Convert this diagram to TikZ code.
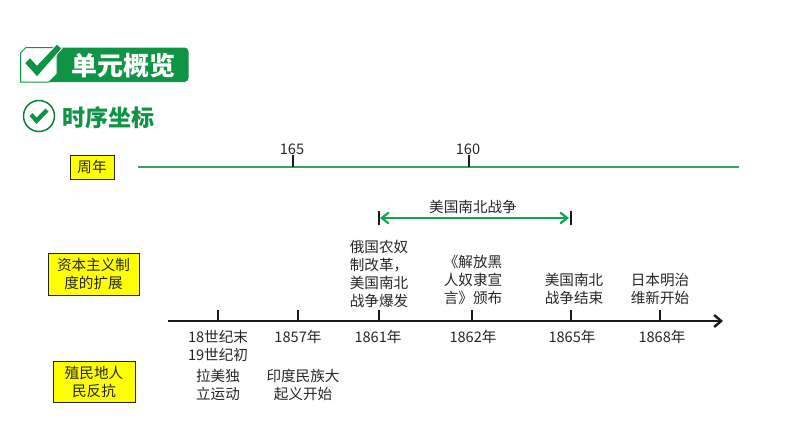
\documentclass[tikz,border=0pt]{standalone}
\usepackage{fontspec}
\setmainfont{Noto Sans CJK SC}
\usetikzlibrary{arrows.meta}
\definecolor{bannergreen}{HTML}{0F9345}
\definecolor{linegreen}{HTML}{3E9E68}
\definecolor{arrowgreen}{HTML}{12A550}
\definecolor{boxyellow}{HTML}{FFFF00}
\tikzset{
  x=1pt,y=-1pt,
  txt/.style={inner sep=0pt,align=center,font=\fontsize{14.6}{18}\selectfont,text=black!85},
  labelbox/.style={draw=black!85,fill=boxyellow,line width=1pt,inner sep=0pt,align=center,font=\fontsize{14.6}{18}\selectfont,text=black!85},
  tick/.style={line width=2pt,black!90},
  axisline/.style={line width=2.4pt,black!90,-{Straight Barb[length=7pt,width=12pt,line width=2.4pt]}},
  gline/.style={line width=2.2pt,linegreen},
}
\begin{document}
\begin{tikzpicture}
\useasboundingbox (0,0) rectangle (794,447);
% banner
\fill[bannergreen,rounded corners=4pt] (45,47.5) rectangle (188.5,82);
\draw[bannergreen,fill=white,line width=1pt] (26,47.5) -- (57,47.5) -- (57,74) -- (49,82) -- (20.5,82) -- (20.5,53) -- cycle;
\fill[bannergreen,draw=white,line width=0.8pt] (24.5,63) -- (30,57.5) -- (37,65) -- (57,44) -- (62,48.5) -- (37,77) -- cycle;
\node[inner sep=0pt,text=white,font=\fontsize{26}{30}\selectfont\bfseries] (title) at (123,66) {单元概览};
% section heading
\node[circle,draw=bannergreen!85!black,line width=1.5pt,minimum size=31pt,inner sep=0pt] (ring) at (39,116) {};
\fill[bannergreen] (29.5,116) -- (32.5,113) -- (36.5,117.5) -- (45.5,108.5) -- (48.5,111.5) -- (36.5,124) -- cycle;
\node[inner sep=0pt,text=bannergreen,font=\fontsize{23}{27}\selectfont\bfseries] (sect) at (108,118) {时序坐标};
% label boxes
\node[labelbox,minimum width=44pt,minimum height=24pt] (zn) at (92,167) {周年};
\node[labelbox,minimum width=91pt,minimum height=42pt] (zb) at (93.5,274) {资本主义制\\度的扩展};
\node[labelbox,minimum width=82pt,minimum height=41pt] (zm) at (94,381.5) {殖民地人\\民反抗};
% anniversary line
\coordinate (gA) at (138,167);
\coordinate (gB) at (739,167);
\draw[gline] (gA) -- (gB);
\coordinate (t165) at (293,167);
\coordinate (t160) at (469,167);
\draw[tick] (t165) -- ++(0,-12);
\draw[tick] (t160) -- ++(0,-12);
\node[txt] (n165) at (292,149) {165};
\node[txt] (n160) at (468,149) {160};
% war span
\coordinate (wA) at (380,218);
\coordinate (wB) at (569,218);
\draw[tick] (378.5,211) -- (378.5,225);
\draw[tick] (570.5,211) -- (570.5,225);
\draw[line width=2.2pt,arrowgreen,{Straight Barb[length=7pt,width=11pt,line width=2.2pt]}-{Straight Barb[length=7pt,width=11pt,line width=2.2pt]}] (wA) -- (wB);
\node[txt] (war) at (473,207) {美国南北战争};
% timeline
\coordinate (aA) at (168,321);
\coordinate (aB) at (723,321);
\draw[axisline] (aA) -- (aB);
\foreach \xx in {218,298,378.5,472,571,660} \draw[tick] (\xx,310) -- (\xx,321);
% dates
\node[txt] (d1) at (218,346) {18世纪末\\19世纪初};
\node[txt] (d2) at (298,337) {1857年};
\node[txt] (d3) at (378,337) {1861年};
\node[txt] (d4) at (473,337) {1862年};
\node[txt] (d5) at (572,337) {1865年};
\node[txt] (d6) at (662,337) {1868年};
% events below
\node[txt] (e1) at (218,385) {拉美独\\立运动};
\node[txt] (e2) at (303,385) {印度民族大\\起义开始};
% events above
\node[txt] (e3) at (379,274) {俄国农奴\\制改革，\\美国南北\\战争爆发};
\node[txt] (e4) at (473,280) {《解放黑\\人奴隶宣\\言》颁布};
\node[txt] (e5) at (574,289) {美国南北\\战争结束};
\node[txt] (e6) at (660,289) {日本明治\\维新开始};
\end{tikzpicture}
\end{document}
